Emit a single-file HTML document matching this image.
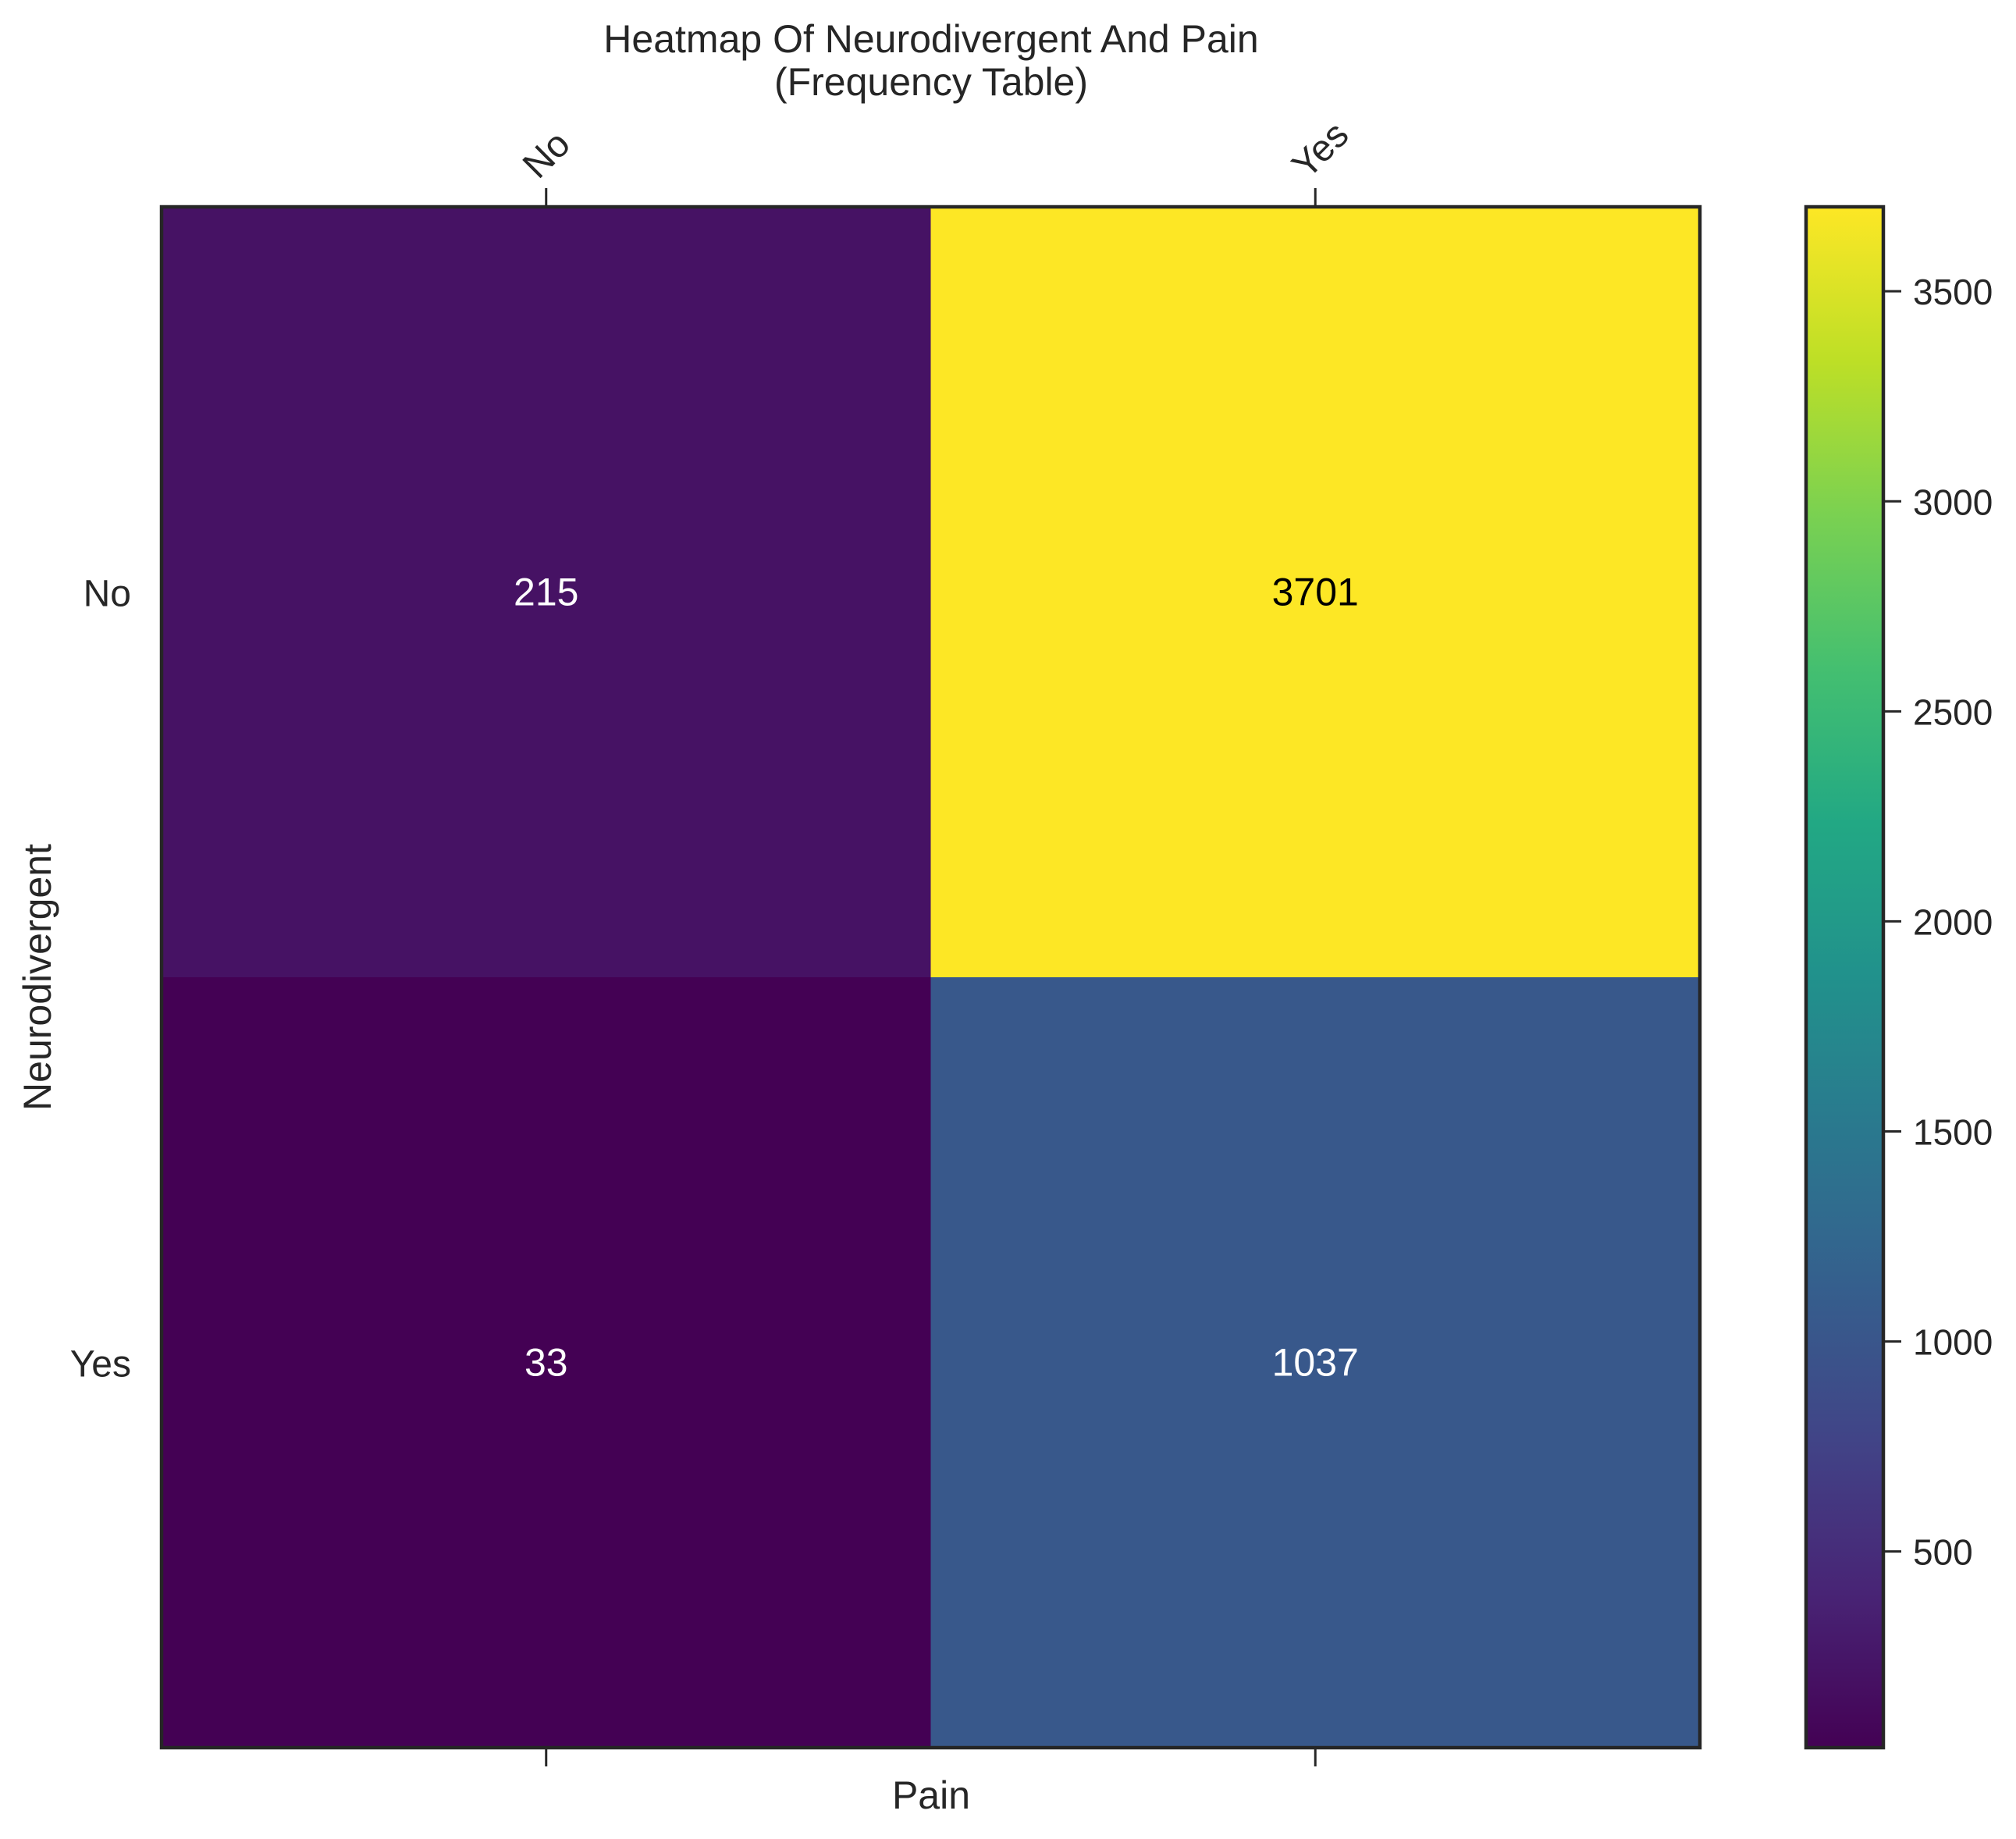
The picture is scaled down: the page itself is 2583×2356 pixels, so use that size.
<!DOCTYPE html>
<html><head><meta charset="utf-8"><style>
html,body{margin:0;padding:0;background:#fff;}
svg{display:block;font-family:"Liberation Sans",Arial,sans-serif;}
</style></head><body>
<svg id="chart" width="2583" height="2356" viewBox="0 0 2583 2356" xmlns="http://www.w3.org/2000/svg">
<defs><linearGradient id="vir" x1="0" y1="1" x2="0" y2="0"></linearGradient></defs>
<g id="cells"></g>
<g id="ann"></g>
<g id="axes"></g>
<text x="1193" y="67" font-size="50" text-anchor="middle" fill="#262626">Heatmap Of Neurodivergent And Pain</text>
<text x="1193" y="122" font-size="50" text-anchor="middle" fill="#262626">(Frequency Table)</text>
<text x="1193" y="2317" font-size="50" text-anchor="middle" fill="#262626">Pain</text>
<text transform="translate(52,1252) rotate(-90)" font-size="50" text-anchor="middle" dominant-baseline="middle" fill="#262626">Neurodivergent</text>
<g id="cbar"></g>
</svg>
<script>
const xCategories = ["No", "Yes"];
const yCategories = ["No", "Yes"];
const rowNo = [215, 3701];
const rowYes = [33, 1037];
const cbTicks = [500, 1000, 1500, 2000, 2500, 3000, 3500];

const values = [rowNo, rowYes];
const NS = "http://www.w3.org/2000/svg";
const L = 207, R = 2178, T = 265, B = 2239;
const CBL = 2314, CBR = 2413;
const all = values.flat();
const vmin = Math.min(...all), vmax = Math.max(...all);
const stops = ["#440154","#482475","#414487","#355f8d","#2a788e","#21918c","#22a884","#44bf70","#7ad151","#bddf26","#fde725"];
function hex(c){return [parseInt(c.slice(1,3),16),parseInt(c.slice(3,5),16),parseInt(c.slice(5,7),16)];}
function viridis(t){t=Math.max(0,Math.min(1,t));const p=t*(stops.length-1);const i=Math.min(Math.floor(p),stops.length-2);const f=p-i;const a=hex(stops[i]),b=hex(stops[i+1]);return "rgb("+a.map((v,k)=>Math.round(v+(b[k]-v)*f)).join(",")+")";}
function norm(v){return (v-vmin)/(vmax-vmin);}
const xScale = i => L + (R-L)*i/xCategories.length;
const yScale = j => T + (B-T)*j/yCategories.length;
const cbY = v => B - (B-T)*norm(v);
function mk(tag, attrs, parent){const e=document.createElementNS(NS,tag);for(const k in attrs)e.setAttribute(k,attrs[k]);parent.appendChild(e);return e;}
const cells=document.getElementById('cells'), ann=document.getElementById('ann'), axes=document.getElementById('axes'), cbar=document.getElementById('cbar');
const cw=(R-L)/xCategories.length, ch=(B-T)/yCategories.length;
values.forEach((row,j)=>row.forEach((v,i)=>{
  const r=mk('rect',{x:xScale(i),y:yScale(j),width:cw+0.5,height:ch+0.5,fill:viridis(norm(v))},cells);
  
  
  const t=mk('text',{x:xScale(i)+cw/2,y:yScale(j)+ch/2,'font-size':50,'text-anchor':'middle','dominant-baseline':'central',fill:norm(v)>0.5?'#000':'#fff'},ann);
  t.textContent=v;
  
  
}));
const fr=mk('rect',{x:L,y:T,width:R-L,height:B-T,fill:'none',stroke:'#262626','stroke-width':4.5},axes);


xCategories.forEach((c,i)=>{
  const x=xScale(i)+cw/2;
  const t1=mk('line',{x1:x,y1:T,x2:x,y2:T-24,stroke:'#262626','stroke-width':3},axes);
  
  
  const t2=mk('line',{x1:x,y1:B,x2:x,y2:B+24,stroke:'#262626','stroke-width':3},axes);
  
  
  const lb=mk('text',{transform:'translate('+(x-10)+','+(T-34)+') rotate(-45)','font-size':48,fill:'#262626'},axes);
  lb.textContent=c;
  
  
});
yCategories.forEach((c,j)=>{
  const y=yScale(j)+ch/2;
  const lb=mk('text',{x:168,y:y+18,'font-size':48,'text-anchor':'end',fill:'#262626'},axes);
  lb.textContent=c;
  
  
});
const g=document.getElementById('vir');
for(let k=0;k<=20;k++){mk('stop',{offset:(k/20),'stop-color':viridis(k/20)},g);}
const cr=mk('rect',{x:CBL,y:T,width:CBR-CBL,height:B-T,fill:'url(#vir)',stroke:'#262626','stroke-width':4.5},cbar);


cbTicks.forEach(v=>{
  const y=cbY(v);
  const tk=mk('line',{x1:CBR,y1:y,x2:CBR+23,y2:y,stroke:'#262626','stroke-width':3},cbar);
  
  
  const tl=mk('text',{x:CBR+38,y:y+17,'font-size':46,fill:'#262626'},cbar);
  tl.textContent=v;
  
  
});
</script>
</body></html>
